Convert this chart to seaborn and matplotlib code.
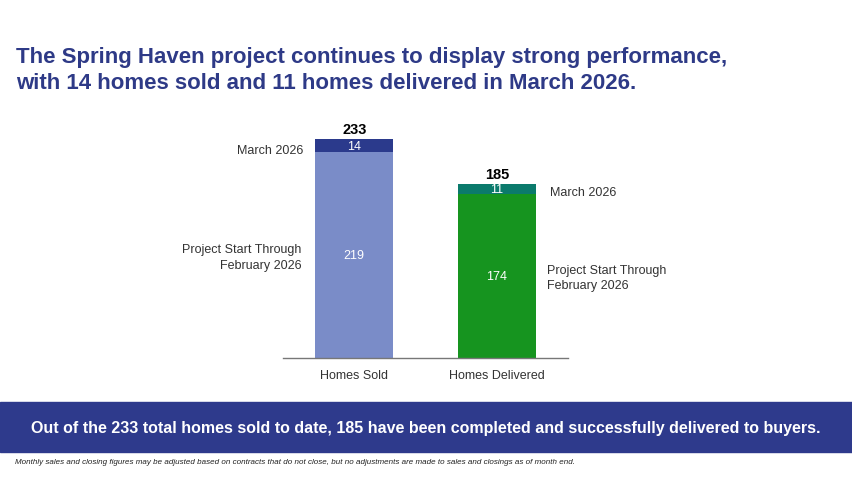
import matplotlib
matplotlib.use('Agg')
import matplotlib.pyplot as plt
import seaborn as sns
import pandas as pd
from matplotlib.patches import Rectangle

categories = ['Homes Sold', 'Homes Delivered']
through_feb = [219, 174]
march = [14, 11]
totals = [a + b for a, b in zip(through_feb, march)]

base_colors = ['#7A8CC8', '#16941F']
top_colors = ['#2B3A8C', '#0B7A6C']

title_text = ("The Spring Haven project continues to display strong performance,\n"
              "with 14 homes sold and 11 homes delivered in March 2026.")
banner_text = ("Out of the 233 total homes sold to date, 185 have been completed "
               "and successfully delivered to buyers.")
footnote_text = ("Monthly sales and closing figures may be adjusted based on contracts that do not close, "
                 "but no adjustments are made to sales and closings as of month end.")

sns.set_style('white')
plt.rcParams['font.family'] = ['Liberation Sans', 'DejaVu Sans']

df = pd.DataFrame({'category': categories, 'base': through_feb,
                   'march': march, 'total': totals})

fig = plt.figure(figsize=(8.52, 5.02), dpi=100)
ax = fig.add_axes([0.3322, 0.2849, 0.3345, 0.4681])

# stacked: totals drawn first (top segment colours), base drawn over them
sns.barplot(data=df, x='category', y='total', hue='category', palette=top_colors,
            width=0.55, legend=False, ax=ax, saturation=1, linewidth=0)
sns.barplot(data=df, x='category', y='base', hue='category', palette=base_colors,
            width=0.55, legend=False, ax=ax, saturation=1, linewidth=0)

ax.set_xlim(-0.5, 1.5)
ax.set_ylim(0, 250)
ax.set_xlabel('')
ax.set_ylabel('')
ax.set_yticks([])
for s in ['top', 'right', 'left']:
    ax.spines[s].set_visible(False)
ax.spines['bottom'].set_color('#777777')
ax.spines['bottom'].set_linewidth(1)
ax.tick_params(axis='x', length=0, labelsize=9, labelcolor='#333333', pad=8)

for i in range(len(categories)):
    ax.text(i, through_feb[i] / 2, str(through_feb[i]), ha='center', va='center',
            color='white', fontsize=9)
    ax.text(i, through_feb[i] + march[i] / 2, str(march[i]), ha='center', va='center',
            color='white', fontsize=9)
    ax.text(i, totals[i] + 3, str(totals[i]), ha='center', va='bottom',
            color='black', fontsize=10.5, fontweight='bold')

# side labels
ax.text(-0.355, through_feb[0] + march[0] / 2 - 5, 'March 2026', ha='right', va='center',
        fontsize=9, color='#333333')
ax.text(-0.37, through_feb[0] / 2 - 2, 'Project Start Through\nFebruary 2026', ha='right',
        va='center', fontsize=9, color='#333333', linespacing=1.45, multialignment='right')
ax.text(1.37, through_feb[1] + march[1] / 2 - 3, 'March 2026', ha='left', va='center',
        fontsize=9, color='#333333')
ax.text(1.355, through_feb[1] / 2 - 1, 'Project Start Through\nFebruary 2026', ha='left',
        va='center', fontsize=9, color='#333333', linespacing=1.35)

fig.text(16 / 852, 1 - 47 / 502, title_text, ha='left', va='top', fontsize=16,
         fontweight='bold', color='#2E3A87', linespacing=1.32)

banner = Rectangle((0, 1 - 453 / 502), 1, 50 / 502, transform=fig.transFigure,
                   color='#2E3A8C', zorder=0)
fig.patches.append(banner)
fig.text(0.5, 1 - 429 / 502, banner_text, ha='center', va='center', fontsize=11.5,
         fontweight='bold', color='white')
fig.text(15 / 852, 1 - 463 / 502, footnote_text, ha='left', va='center', fontsize=5.75,
         style='italic', color='#222222')

fig.savefig('out.png', dpi=100)
